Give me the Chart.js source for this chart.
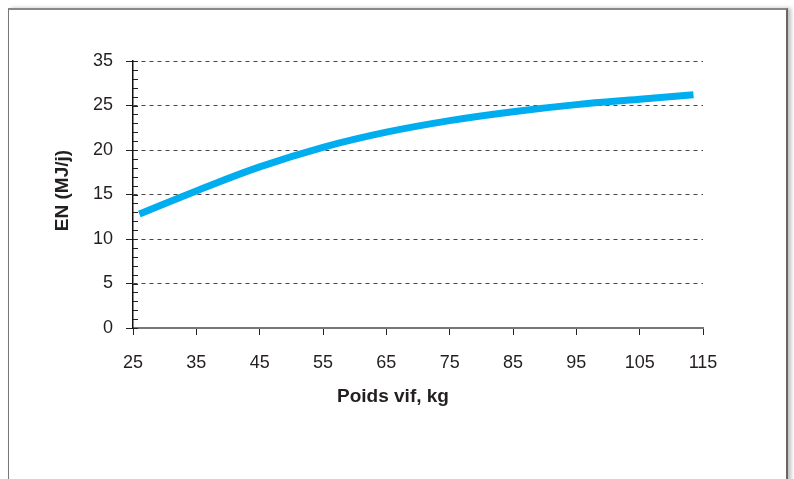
<!DOCTYPE html>
<html>
<head>
<meta charset="utf-8">
<script src="https://cdn.jsdelivr.net/npm/chart.js@4.4.1/dist/chart.umd.min.js"></script>
<style>
  html, body { margin: 0; padding: 0; background: #fff; }
  body { width: 794px; height: 479px; position: relative; overflow: hidden; }
  #frame {
    position: absolute; left: 8px; top: 8px; width: 777px; height: 500px;
    border-top: 2px solid #888; border-left: 1px solid #777; border-right: 2px solid #666;
    box-shadow: 3px 0 4px rgba(0,0,0,0.25);
  }
  #chart { position: absolute; left: 0; top: 0; }
</style>
</head>
<body>
<div id="frame"></div>
<canvas id="chart" width="794" height="479"></canvas>
<script>
// ---- data ----
const weightKg = [26, 35, 45, 55, 65, 75, 85, 95, 105, 113.5];
const enMJ     = [12.8, 15.4, 18.1, 20.3, 22.0, 23.3, 24.3, 25.1, 25.7, 26.2];

// y tick labels as printed (top one reads "35" in the source)
const yTickValues = [0, 5, 10, 15, 20, 25, 30];
const yTickLabels = ['0', '5', '10', '15', '20', '25', '35'];
const xTickValues = [25, 35, 45, 55, 65, 75, 85, 95, 105, 115];

const xTitle = 'Poids vif, kg';
const yTitle = 'EN (MJ/j)';

const FONT = "'Liberation Sans', Arial, Helvetica, sans-serif";
const TEXT = '#231f20';

// minor ticks on the inside of the y axis + axis titles
const extras = {
    id: 'extras',
    afterDraw(chart) {
        const ctx = chart.ctx;
        const y = chart.scales.y;
        const area = chart.chartArea;
        ctx.save();
        ctx.strokeStyle = '#222';
        ctx.lineWidth = 1;
        for (let v = y.min; v <= y.max; v++) {
            const py = Math.round(y.getPixelForValue(v)) + 0.5;
            ctx.beginPath();
            ctx.moveTo(area.left, py);
            ctx.lineTo(area.left + 5, py);
            ctx.stroke();
        }
        ctx.fillStyle = TEXT;
        ctx.font = 'bold 19px ' + FONT;
        ctx.textAlign = 'center';
        ctx.textBaseline = 'middle';
        ctx.fillText(xTitle, 393, 397);
        ctx.translate(63, (area.top + area.bottom) / 2 - 4);
        ctx.rotate(-Math.PI / 2);
        ctx.fillText(yTitle, 0, 0);
        ctx.restore();
    }
};

new Chart(document.getElementById('chart'), {
    type: 'line',
    data: {
        datasets: [{
            data: weightKg.map((w, i) => ({ x: w, y: enMJ[i] })),
            borderColor: '#00aeef',
            borderWidth: 7,
            pointRadius: 0,
            tension: 0.4,
            borderCapStyle: 'butt',
            fill: false
        }]
    },
    options: {
        responsive: false,
        animation: false,
        devicePixelRatio: 1,
        layout: { padding: { top: 61, right: 91, left: 0, bottom: 0 } },
        plugins: { legend: { display: false }, tooltip: { enabled: false } },
        scales: {
            x: {
                type: 'linear',
                min: 25,
                max: 115,
                afterBuildTicks: (s) => { s.ticks = xTickValues.map(v => ({ value: v })); },
                afterFit: (s) => { s.height = 151; },
                ticks: { color: TEXT, font: { family: FONT, size: 18 }, padding: 17, maxRotation: 0 },
                grid: { drawOnChartArea: false, drawTicks: true, tickLength: 7, tickColor: '#222', tickWidth: 1 },
                border: { color: '#777', width: 2 }
            },
            y: {
                min: 0,
                max: 30,
                afterBuildTicks: (s) => { s.ticks = yTickValues.map(v => ({ value: v })); },
                afterFit: (s) => { s.width = 133; },
                ticks: {
                    color: TEXT,
                    font: { family: FONT, size: 18 },
                    padding: 13,
                    callback: (v) => yTickLabels[yTickValues.indexOf(v)]
                },
                grid: {
                    color: (c) => (c.tick && c.tick.value === 0) ? 'rgba(0,0,0,0)' : '#444',
                    lineWidth: 1,
                    tickLength: 7,
                    tickColor: '#222',
                    tickBorderDash: []
                },
                border: { color: '#111', width: 1.5, dash: [4, 4] }
            }
        }
    },
    plugins: [extras]
});
</script>
</body>
</html>
